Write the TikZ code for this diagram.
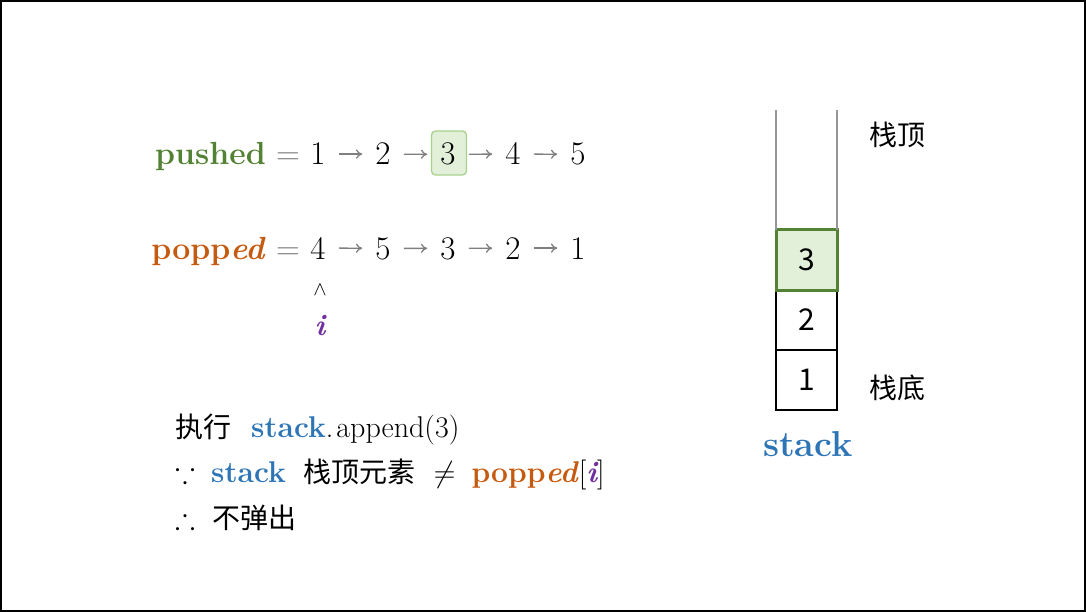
\documentclass[tikz,border=0pt]{standalone}
\usepackage{fix-cm}
\usepackage{amsmath,amssymb}
\usepackage{fontspec}
\newfontfamily\cjk{Noto Sans CJK SC}
\usepackage{tikz}
\usetikzlibrary{positioning,arrows.meta,backgrounds}
\usepackage{xcolor}
\definecolor{pushgreen}{HTML}{548235}
\definecolor{popcolor}{HTML}{C55A11}
\definecolor{stackblue}{HTML}{2E75B6}
\definecolor{ptrpurple}{HTML}{7030A0}
\definecolor{hlfill}{HTML}{E2F0D9}
\definecolor{hlborder}{HTML}{A9D18E}
\definecolor{arrgray}{HTML}{7F7F7F}
\definecolor{wallgray}{HTML}{969696}
\newcommand{\fsz}[1]{\fontsize{#1}{#1}\selectfont}
\newcommand{\zh}[1]{{\cjk\fsz{28}#1}}

\begin{document}
\begin{tikzpicture}[
  x=1pt, y=-1pt,
  num/.style     = {font=\fsz{33}, inner sep=6pt, anchor=base},
  eqs/.style     = {font=\fsz{33}, text=arrgray, anchor=base, inner sep=0pt},
  seqname/.style = {font=\fsz{32}\bfseries, anchor=base east, inner sep=0pt},
  seqarr/.style  = {-{To[length=2.2mm,width=3.2mm]}, draw=arrgray, line width=1.3pt,
                    shorten <=7pt, shorten >=7pt},
  hl/.style      = {draw=hlborder, fill=hlfill, rounded corners=4pt, line width=1.3pt,
                    minimum width=35pt, minimum height=44pt},
  cell/.style    = {draw, line width=1.6pt, minimum width=61pt, minimum height=60pt,
                    font=\cjk\fsz{30}, inner sep=0pt, outer sep=0pt},
  topcell/.style = {cell, draw=pushgreen, fill=hlfill, line width=3pt},
  wall/.style    = {draw=wallgray, line width=1.4pt},
  cjklbl/.style  = {font=\cjk\fsz{28}, inner sep=0pt},
  stmt/.style    = {anchor=base west, font=\fsz{30}, inner sep=0pt},
]
\useasboundingbox (0,0) rectangle (1086,612);
\draw[line width=2pt] (1,1) rectangle (1085,611);

% ================= pushed ==============================================
\node[seqname, text=pushgreen] (pushlbl) at (266,165) {pushed};
\node[eqs] (pusheq) at (288,165) {$=$};
\foreach \v [count=\k] in {1,2,3,4,5}
  \node[num] (pu\k) at ({253+65*\k},165) {\v};
\begin{scope}[on background layer]
  \node[hl] (pushbox) at (449,153) {};
\end{scope}
\foreach \a/\b in {1/2,2/3,3/4,4/5} \draw[seqarr] (pu\a) -- (pu\b);

% ================= popped ==============================================
\node[seqname, text=popcolor] (poplbl) at (266,259) {popp\textit{ed}};
\node[eqs] (popeq) at (288,259) {$=$};
\foreach \v [count=\k] in {4,5,3,2,1}
  \node[num] (po\k) at ({253+65*\k},259) {\v};
\foreach \a/\b in {1/2,2/3,3/4,4/5} \draw[seqarr] (po\a) -- (po\b);

% pointer i
\node[font=\fsz{20}, inner sep=0pt] (caret) at (320,290) {$\wedge$};
\node[font=\fsz{30}\bfseries\itshape, text=ptrpurple, anchor=base, inner sep=0pt]
  (ptr) at (320,335) {i};

% ================= statements ==========================================
\node[stmt] (doit) at (175,437)
  {\zh{执行}\hspace{20pt}{\bfseries\color{stackblue}stack}.\hspace{3pt}append(3)};
\node[stmt] (because) at (175,482)
  {$\because$\hspace{16pt}{\bfseries\color{stackblue}stack}\hspace{18pt}\zh{栈顶元素}%
   \hspace{18pt}$\neq$\hspace{16pt}{\bfseries\color{popcolor}popp\textit{ed}}%
   [{\bfseries\itshape\color{ptrpurple}i}]};
\node[stmt] (hence) at (175,528)
  {$\therefore$\hspace{17pt}\zh{不弹出}};

% ================= stack ===============================================
\node[cell] (s1) at (806.5,380) {1};
\node[cell, above=0pt of s1] (s2) {2};
\node[topcell, above=0pt of s2] (s3) {3};
\coordinate (wallL) at (776,110);
\coordinate (wallR) at (837,110);
\draw[wall] (s3.north west) -- (wallL);
\draw[wall] (s3.north east) -- (wallR);

\node[cjklbl] (toplbl) at (897,135) {栈顶};
\node[cjklbl] (botlbl) at (897,388) {栈底};
\node[font=\fsz{36}\bfseries, text=stackblue, inner sep=0pt] (stacklbl) at (808,444) {stack};

\end{tikzpicture}
\end{document}
